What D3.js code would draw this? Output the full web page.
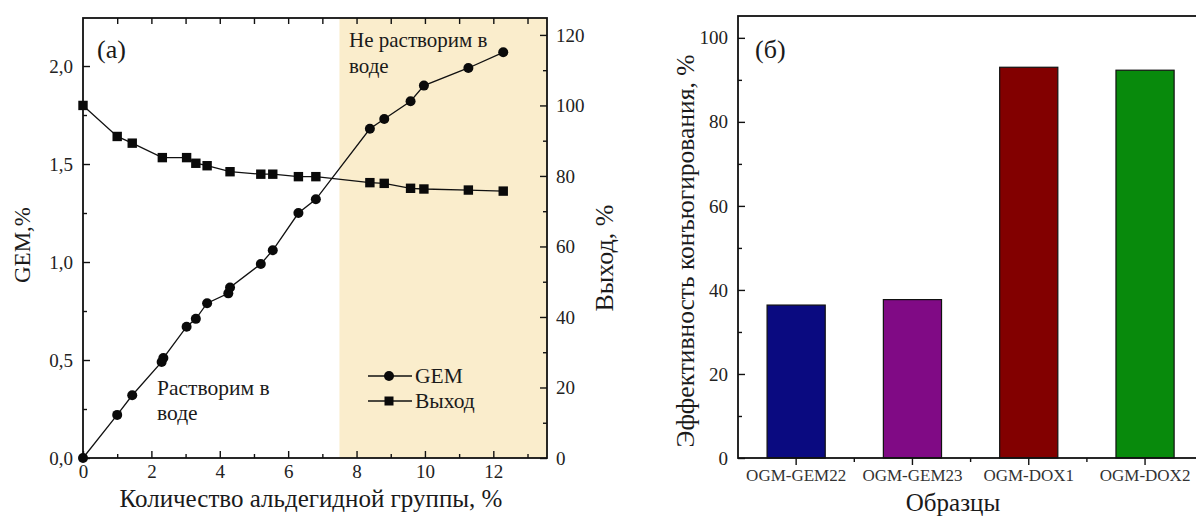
<!DOCTYPE html>
<html>
<head>
<meta charset="utf-8">
<script src="https://cdn.jsdelivr.net/npm/d3@7"></script>
<style>
  body { margin: 0; background: #fff; overflow: hidden; }
  svg { display: block; font-family: "Liberation Serif", "Times New Roman", serif; }
</style>
</head>
<body>
<div id="chart"></div>
<script>
// ---- data (a): GEM and yield vs aldehyde content ----
var gemX   = [0, 1.0, 1.44, 2.3, 2.35, 3.03, 3.3, 3.63, 4.25, 4.3, 5.2, 5.55, 6.3, 6.81, 8.39, 8.81, 9.58, 9.97, 11.27, 12.29];
var gemY   = [0, 0.22, 0.32, 0.49, 0.51, 0.67, 0.71, 0.79, 0.84, 0.87, 0.99, 1.06, 1.25, 1.32, 1.68, 1.73, 1.82, 1.90, 1.99, 2.07];
var yieldX = [0, 1.0, 1.44, 2.32, 3.03, 3.3, 3.63, 4.3, 5.2, 5.55, 6.3, 6.81, 8.39, 8.81, 9.58, 9.97, 11.27, 12.29];
var yieldY = [100, 91.2, 89.3, 85.2, 85.2, 83.6, 82.9, 81.2, 80.5, 80.5, 79.8, 79.8, 78.1, 77.9, 76.5, 76.3, 76.0, 75.7];
var insolubleFrom = 7.5;
var gemTicks = [0, 0.5, 1.0, 1.5, 2.0];
var yieldTicks = [0, 20, 40, 60, 80, 100, 120];
var xTicks = [0, 2, 4, 6, 8, 10, 12];

// ---- data (б): conjugation efficiency ----
var samples = ["OGM-GEM22", "OGM-GEM23", "OGM-DOX1", "OGM-DOX2"];
var efficiency = [36.4, 37.7, 93.0, 92.3];
var barColors = ["#0a0a80", "#800a85", "#820000", "#088a0c"];
var effTicks = [0, 20, 40, 60, 80, 100];

var W = 1196, H = 516;
var svg = d3.select("#chart").append("svg").attr("width", W).attr("height", H);

function txt(g, tx, ty, s, size, anchor) {
    return g.append("text").attr("x", tx).attr("y", ty)
        .attr("font-size", size).attr("fill", "#1a1a1a")
        .attr("text-anchor", anchor || "start").text(s);
}

// ================= chart (a) =================
var A = { left: 83, right: 547, top: 18, bottom: 458 };
var x = d3.scaleLinear().domain([0, 13.57]).range([A.left, A.right]);
var yL = d3.scaleLinear().domain([0, 2.245]).range([A.bottom, A.top]);
var yR = d3.scaleLinear().domain([0, 124.8]).range([A.bottom, A.top]);

var ga = svg.append("g");

// shaded "insoluble" zone
ga.append("rect")
    .attr("x", x(insolubleFrom)).attr("y", A.top)
    .attr("width", A.right - x(insolubleFrom)).attr("height", A.bottom - A.top)
    .attr("fill", "#faedcc");

// axes, ticks pointing inward
ga.append("g").attr("transform", `translate(0,${A.bottom})`)
    .call(d3.axisTop(x).tickValues(d3.range(1, 14, 2)).tickSize(4).tickFormat(""));
ga.append("g").attr("transform", `translate(0,${A.bottom})`)
    .call(d3.axisTop(x).tickValues(xTicks).tickSize(7).tickFormat(""));
ga.append("g").attr("class", "lbl").attr("transform", `translate(0,${A.bottom})`)
    .call(d3.axisBottom(x).tickValues(xTicks).tickSize(0).tickPadding(7).tickFormat(d3.format("d")));
ga.append("g").attr("transform", `translate(0,${A.top})`)
    .call(d3.axisBottom(x).tickValues(d3.range(1, 14)).tickSize(6).tickFormat(""));

var commaFmt = function(d) { return d3.format(".1f")(d).replace(".", ","); };
ga.append("g").attr("transform", `translate(${A.left},0)`)
    .call(d3.axisRight(yL).tickValues(d3.range(0.25, 2.25, 0.5)).tickSize(4).tickFormat(""));
ga.append("g").attr("transform", `translate(${A.left},0)`)
    .call(d3.axisRight(yL).tickValues(gemTicks).tickSize(7).tickFormat(""));
ga.append("g").attr("class", "lbl").attr("transform", `translate(${A.left},0)`)
    .call(d3.axisLeft(yL).tickValues(gemTicks).tickSize(0).tickPadding(10).tickFormat(commaFmt));

ga.append("g").attr("transform", `translate(${A.right},0)`)
    .call(d3.axisLeft(yR).tickValues(d3.range(10, 125, 20)).tickSize(4).tickFormat(""));
ga.append("g").attr("transform", `translate(${A.right},0)`)
    .call(d3.axisLeft(yR).tickValues(yieldTicks).tickSize(7).tickFormat(""));
ga.append("g").attr("class", "lbl").attr("transform", `translate(${A.right},0)`)
    .call(d3.axisRight(yR).tickValues(yieldTicks).tickSize(0).tickPadding(9));

ga.selectAll(".domain").remove();
ga.selectAll(".tick line").attr("stroke", "#111").attr("stroke-width", 1.4);
ga.selectAll(".tick text").attr("font-size", 19).attr("fill", "#222")
    .attr("font-family", "Liberation Serif");

// frame
ga.append("rect")
    .attr("x", A.left).attr("y", A.top)
    .attr("width", A.right - A.left).attr("height", A.bottom - A.top)
    .attr("fill", "none").attr("stroke", "#111").attr("stroke-width", 1.8);

// lines + markers
var gemData = gemX.map(function(d, i) { return [d, gemY[i]]; });
var yieldData = yieldX.map(function(d, i) { return [d, yieldY[i]]; });

ga.append("path").datum(gemData)
    .attr("fill", "none").attr("stroke", "#111").attr("stroke-width", 1.3)
    .attr("d", d3.line().x(d => x(d[0])).y(d => yL(d[1])));
ga.append("path").datum(yieldData)
    .attr("fill", "none").attr("stroke", "#111").attr("stroke-width", 1.3)
    .attr("d", d3.line().x(d => x(d[0])).y(d => yR(d[1])));

ga.selectAll(".gem-pt").data(gemData).enter().append("circle")
    .attr("class", "gem-pt")
    .attr("cx", d => x(d[0])).attr("cy", d => yL(d[1]))
    .attr("r", 5).attr("fill", "#0a0a0a");
ga.selectAll(".yield-pt").data(yieldData).enter().append("rect")
    .attr("class", "yield-pt")
    .attr("x", d => x(d[0]) - 4.7).attr("y", d => yR(d[1]) - 4.7)
    .attr("width", 9.4).attr("height", 9.4).attr("fill", "#0a0a0a");

// annotations
txt(ga, 97, 58, "(a)", 26);
txt(ga, 349, 47, "Не растворим  в", 21);
txt(ga, 349, 73, "воде", 21);
txt(ga, 157, 395, "Растворим в", 21.5);
txt(ga, 157, 420, "воде", 21.5);

// legend
var legend = [["GEM", "circle"], ["Выход", "square"]];
legend.forEach(function(l, i) {
    var ly = 376 + i * 25;
    ga.append("line").attr("x1", 368).attr("x2", 412).attr("y1", ly).attr("y2", ly)
        .attr("stroke", "#111").attr("stroke-width", 1.3);
    if (l[1] === "circle") {
        ga.append("circle").attr("cx", 389).attr("cy", ly).attr("r", 5).attr("fill", "#0a0a0a");
    } else {
        ga.append("rect").attr("x", 384.5).attr("y", ly - 4.5).attr("width", 9).attr("height", 9).attr("fill", "#0a0a0a");
    }
    txt(ga, 415, ly + 7, l[0], 21.5);
});

// axis titles
txt(ga, 311, 507, "Количество альдегидной группы, %", 25, "middle");
ga.append("text").attr("transform", "translate(30,245) rotate(-90)")
    .attr("text-anchor", "middle").attr("font-size", 23).attr("fill", "#1a1a1a").text("GEM,%");
ga.append("text").attr("transform", "translate(613,258) rotate(-90)")
    .attr("text-anchor", "middle").attr("font-size", 26).attr("fill", "#1a1a1a").text("Выход, %");

// ================= chart (б) =================
var B = { left: 738, top: 16, bottom: 458 };
var step = 116.3;
var B_right = B.left + step * samples.length;
var xb = d3.scaleBand().domain(samples).range([B.left, B_right]).paddingInner(0.5).paddingOuter(0.25);
var yb = d3.scaleLinear().domain([0, 105.2]).range([B.bottom, B.top]);

var gb = svg.append("g");

gb.selectAll(".bar").data(samples).enter().append("rect")
    .attr("class", "bar")
    .attr("x", d => xb(d)).attr("width", xb.bandwidth())
    .attr("y", (d, i) => yb(efficiency[i]))
    .attr("height", (d, i) => B.bottom - yb(efficiency[i]))
    .attr("fill", (d, i) => barColors[i])
    .attr("stroke", "#111").attr("stroke-width", 1.2);

gb.append("g").attr("transform", `translate(${B.left},0)`)
    .call(d3.axisRight(yb).tickValues(d3.range(10, 105, 20)).tickSize(4).tickFormat(""));
gb.append("g").attr("transform", `translate(${B.left},0)`)
    .call(d3.axisRight(yb).tickValues(effTicks).tickSize(7).tickFormat(""));
gb.append("g").attr("class", "lbl").attr("transform", `translate(${B.left},0)`)
    .call(d3.axisLeft(yb).tickValues(effTicks).tickSize(0).tickPadding(10));

gb.append("g").attr("class", "cat").attr("transform", `translate(0,${B.bottom})`)
    .call(d3.axisBottom(xb).tickSize(7).tickPadding(4));
// minor ticks between categories
gb.selectAll(".between").data(samples).enter().append("line")
    .attr("class", "between")
    .attr("x1", d => xb(d) + xb.bandwidth() / 2 + step / 2)
    .attr("x2", d => xb(d) + xb.bandwidth() / 2 + step / 2)
    .attr("y1", B.bottom).attr("y2", B.bottom + 4)
    .attr("stroke", "#111").attr("stroke-width", 1.4);

gb.selectAll(".domain").remove();
gb.selectAll(".tick line").attr("stroke", "#111").attr("stroke-width", 1.4);
gb.selectAll(".tick text").attr("font-size", 19).attr("fill", "#222")
    .attr("font-family", "Liberation Serif");
gb.selectAll(".cat .tick text").attr("font-size", 17).attr("fill", "#333");

gb.append("rect")
    .attr("x", B.left).attr("y", B.top)
    .attr("width", B_right - B.left).attr("height", B.bottom - B.top)
    .attr("fill", "none").attr("stroke", "#111").attr("stroke-width", 1.8);

txt(gb, 755, 58, "(б)", 26);
txt(gb, 953, 511, "Образцы", 25, "middle");
gb.append("text").attr("transform", "translate(694,251) rotate(-90)")
    .attr("text-anchor", "middle").attr("font-size", 25.5).attr("fill", "#1a1a1a")
    .text("Эффективность конъюгирования, %");
</script>
</body>
</html>
